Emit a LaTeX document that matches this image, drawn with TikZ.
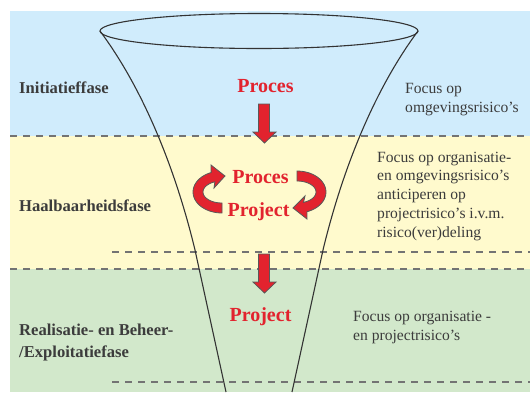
\documentclass[tikz,border=0pt]{standalone}
\usepackage{fontspec}
\setmainfont{Liberation Serif}
\usetikzlibrary{positioning}
\definecolor{initblue}{RGB}{208,236,252}
\definecolor{haalyellow}{RGB}{255,250,205}
\definecolor{realgreen}{RGB}{210,232,203}
\definecolor{stapred}{RGB}{226,35,46}
\definecolor{tekstgrey}{RGB}{60,60,60}
\tikzset{
fase/.style={anchor=base west, inner sep=0pt, text=tekstgrey, align=left,
  font=\fontsize{16.6}{22}\selectfont\bfseries},
focus/.style={anchor=base west, inner sep=0pt, text=tekstgrey, align=left,
  font=\fontsize{15.6}{18.7}\selectfont},
stap/.style={anchor=base, inner sep=0pt, text=stapred,
  font=\fontsize{20}{24}\selectfont\bfseries},
grens/.style={draw=black!55, line width=1.3pt, dash pattern=on 7pt off 6pt},
trechter/.style={draw=black!80, line width=1.1pt},
pijl/.style={fill=stapred, draw=black!65, line width=0.8pt},
}
\begin{document}
\begin{tikzpicture}[x=1pt,y=-1pt]
\useasboundingbox (0,0) rectangle (530,392);
\fill[initblue] (10,11) rectangle (530,136);
\fill[haalyellow] (10,136) rectangle (530,269);
\fill[realgreen] (10,269) rectangle (530,392);
\foreach \y in {136,269} {
\draw[grens] (10,\y) -- (530,\y);
}
\foreach \y in {252,382} {
\draw[grens] (112,\y) -- (530,\y);
}
% trechter
\draw[trechter] (259,31) ellipse [x radius=159pt, y radius=17.5pt];
\draw[trechter] (100,31) .. controls (155,105) and (183,200) .. (195,250) -- (226,392);
\draw[trechter] (418,31) .. controls (363,105) and (335,200) .. (323,250) -- (292,392);
% pijlen
\foreach \y in {104,254} {
\draw[pijl] (258.5,\y) -- (269.5,\y) -- (269.5,\y+28) -- (276,\y+28) -- (264.5,\y+39)
  -- (253,\y+28) -- (258.5,\y+28) -- cycle;
}
\draw[pijl] plot[domain=90:248, samples=30] ({222+29*cos(\x)},{192+21*sin(\x)})
  -- (211,165) -- (225,176) -- (214,188)
  -- plot[domain=248:90, samples=30] ({222+19*cos(\x)},{192+11*sin(\x)}) -- cycle;
\draw[pijl] plot[domain=270:430, samples=30] ({297+29*cos(\x)},{192+21*sin(\x)})
  -- (307,219) -- (293,208) -- (305,196)
  -- plot[domain=430:270, samples=30] ({297+19*cos(\x)},{192+11*sin(\x)}) -- cycle;
% teksten (base = laatste regel)
\node[stap] (procesinit) at (265.5,92) {Proces};
\node[stap] (proceshaal) at (260.5,183) {Proces};
\node[stap] (projecthaal) at (258.5,216) {Project};
\node[stap] (projectreal) at (260.5,321) {Project};
\node[fase] (initfase) at (19,93) {Initiatieffase};
\node[fase] (haalfase) at (19,211) {Haalbaarheidsfase};
\node[fase] (realfase) at (19,357) {Realisatie- en Beheer-\\/Exploitatiefase};
\node[focus] (focusinit) at (405,112) {Focus op\\omgevingsrisico’s};
\node[focus] (focushaal) at (377,237) {Focus op organisatie-\\en omgevingsrisico’s\\anticiperen op\\projectrisico’s i.v.m.\\risico(ver)deling};
\node[focus] (focusreal) at (353,340) {Focus op organisatie -\\en projectrisico’s};
\end{tikzpicture}
\end{document}
